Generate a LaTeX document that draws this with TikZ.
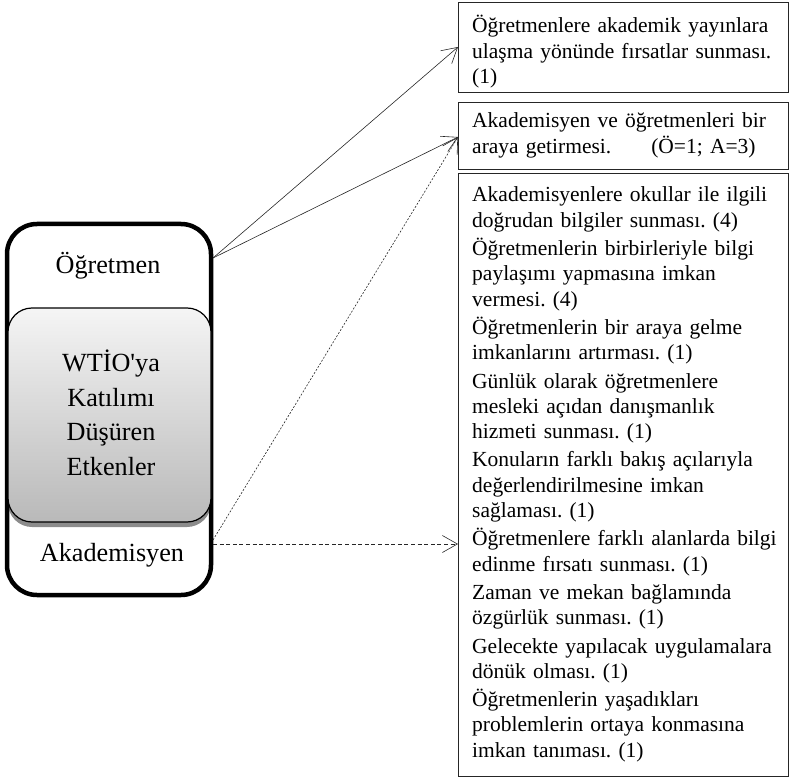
\documentclass[tikz,border=0pt]{standalone}
\usepackage{fontspec}
\setmainfont{Liberation Serif}
\usetikzlibrary{arrows.meta,shadows}
\frenchspacing
\begin{document}
\frenchspacing
\begin{tikzpicture}[x=1pt,y=-1pt,
  leftfont/.style={font=\fontsize{26.2}{34.5}\selectfont},
  rightfont/.style={font=\fontsize{21.5}{25.3}\selectfont},
  itembox/.style={draw=black!85, line width=0.9pt, anchor=north west, inner sep=0pt, minimum width=330pt},
  itemtext/.style={rightfont, align=left, anchor=base west, inner sep=0pt, text width=312pt},
  tip/.style={-{Straight Barb[length=15pt,width=17pt,line width=0.6pt]}},
  solidarrow/.style={draw=black!85, line width=0.6pt, tip},
  dotarrow/.style={draw=black!85, line width=0.6pt, dash pattern=on 2pt off 1.6pt, tip},
  dasharrow/.style={draw=black!85, line width=0.6pt, dash pattern=on 4pt off 2.6pt, tip}
]
\useasboundingbox (0,0) rectangle (790,778);

% left container
\node[draw, line width=4.5pt, rounded corners=30pt, minimum width=204pt, minimum height=371pt, inner sep=0pt] (outer) at (109,409.5) {};
\node[draw, line width=1.2pt, rounded corners=24pt, top color=gray!8, bottom color=gray!55,
      minimum width=203pt, minimum height=214pt, inner sep=0pt,
      drop shadow={shadow xshift=0pt, shadow yshift=-5pt, fill=black, opacity=0.45}] (inner) at (109.5,415) {};
\node[leftfont, anchor=base, inner sep=0pt] (tOg) at (108,273) {Öğretmen};
\node[leftfont, anchor=base, inner sep=0pt, align=center] (core) at (111,475) {WTİO\textquotesingle ya\\Katılımı\\Düşüren\\Etkenler};
\node[leftfont, anchor=base, inner sep=0pt] (tAk) at (112,561) {Akademisyen};

% right boxes
\node[itembox, minimum height=90pt] (b1) at (458,2) {};
\node[itembox, minimum height=67pt] (b2) at (458,102) {};
\node[itembox, minimum height=603pt] (b3) at (458,173) {};

\node[itemtext] (t1) at (472,33) {Öğretmenlere akademik yayınlara\\ulaşma yönünde fırsatlar sunması.\\(1)};
\node[itemtext] (t2) at (472,128) {Akademisyen ve öğretmenleri bir\\araya getirmesi.\hspace{40pt}(Ö=1; A=3)};
\node[itemtext] (t3) at (472,202) {Akademisyenlere okullar ile ilgili\\doğrudan bilgiler sunması. (4)\\[3pt]
Öğretmenlerin birbirleriyle bilgi\\paylaşımı yapmasına imkan\\vermesi. (4)\\[3pt]
Öğretmenlerin bir araya gelme\\imkanlarını artırması. (1)\\[3pt]
Günlük olarak öğretmenlere\\mesleki açıdan danışmanlık\\hizmeti sunması. (1)\\[3pt]
Konuların farklı bakış açılarıyla\\değerlendirilmesine imkan\\sağlaması. (1)\\[3pt]
Öğretmenlere farklı alanlarda bilgi\\edinme fırsatı sunması. (1)\\[3pt]
Zaman ve mekan bağlamında\\özgürlük sunması. (1)\\[3pt]
Gelecekte yapılacak uygulamalara\\dönük olması. (1)\\[3pt]
Öğretmenlerin yaşadıkları\\problemlerin ortaya konmasına\\imkan tanıması. (1)};

% connector ends
\coordinate (pO) at (213,258);
\coordinate (pA1) at (213,540);
\coordinate (pA2) at (213,544);
\coordinate (q1) at (458,47);
\coordinate (q2) at (458,137);
\coordinate (q3) at (458,544);

\draw[solidarrow] (pO) -- (q1);
\draw[solidarrow] (pO) -- (q2);
\draw[dotarrow] (pA1) -- (q2);
\draw[dasharrow] (pA2) -- (q3);
\end{tikzpicture}
\end{document}
